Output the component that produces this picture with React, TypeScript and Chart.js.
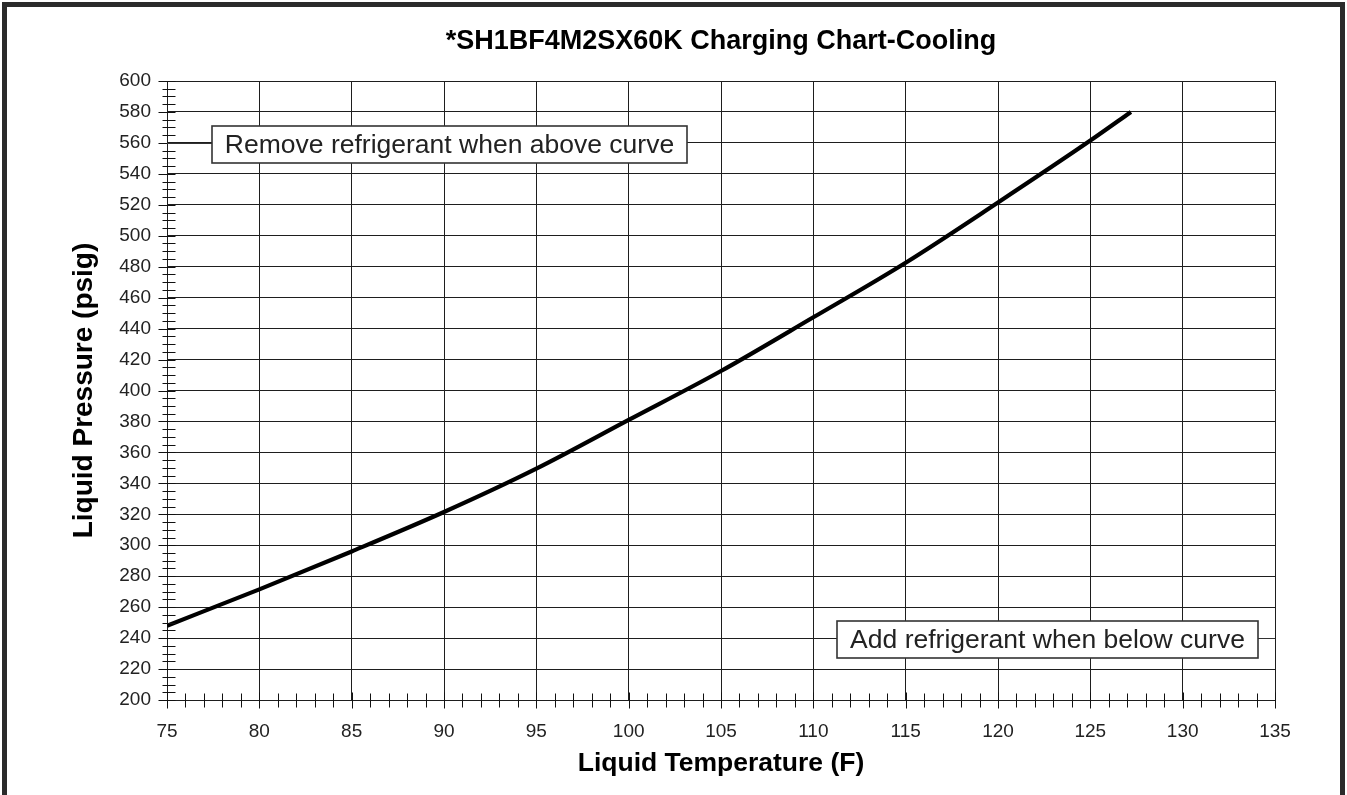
import React, { useEffect, useRef } from "react";
import { Chart, registerables } from "chart.js";

Chart.register(...registerables);

// ---- Data ----
const TITLE = "*SH1BF4M2SX60K Charging Chart-Cooling";
const X_TITLE = "Liquid Temperature (F)";
const Y_TITLE = "Liquid Pressure (psig)";

const TEMPS = [75, 80, 85, 90, 95, 100, 105, 110, 115, 120, 125, 127.2];
const PRESSURES = [248, 271.5, 296, 321.5, 349.5, 381, 412.6, 447.3, 482.6, 521.5, 561.5, 580];

const X_MIN = 75;
const X_MAX = 135;
const X_MAJOR_STEP = 5;
const X_MINOR_STEP = 1;
const Y_MIN = 200;
const Y_MAX = 600;
const Y_MAJOR_STEP = 20;
const Y_MINOR_STEP = 5;

const NOTE_TEXTS = ["Remove refrigerant when above curve", "Add refrigerant when below curve"];
const NOTE_ANCHOR_X = [77.44, 134.08];
const NOTE_ANCHOR_Y = [560, 240];
const NOTE_SIDE = ["left", "right"];

const FONT = "'Liberation Sans', Arial, Helvetica, sans-serif";

const minorTicksPlugin = {
  id: "minorTicks",
  afterDatasetsDraw(chart: any) {
    const { ctx, chartArea, scales } = chart;
    const x = scales.x;
    const y = scales.y;
    ctx.save();
    ctx.strokeStyle = "#111";
    ctx.lineWidth = 1;
    ctx.beginPath();
    const ax = Math.round(chartArea.left) + 0.5;
    for (let v = Y_MIN; v <= Y_MAX + 1e-9; v += Y_MINOR_STEP) {
      const py = Math.round(y.getPixelForValue(v)) + 0.5;
      const major = Math.abs(v % Y_MAJOR_STEP) < 1e-9;
      ctx.moveTo(ax - (major ? 9 : 5), py);
      ctx.lineTo(ax + 8, py);
    }
    const ay = Math.round(chartArea.bottom) + 0.5;
    for (let v = X_MIN; v <= X_MAX + 1e-9; v += X_MINOR_STEP) {
      const px = Math.round(x.getPixelForValue(v)) + 0.5;
      const major = Math.abs(v % X_MAJOR_STEP) < 1e-9;
      ctx.moveTo(px, ay - (major ? 8 : 7));
      ctx.lineTo(px, ay + (major ? 8 : 7));
    }
    ctx.stroke();
    ctx.restore();
  },
};

const notesPlugin = {
  id: "notes",
  afterDraw(chart: any) {
    const { ctx, chartArea, scales } = chart;
    const x = scales.x;
    const y = scales.y;
    ctx.save();
    ctx.font = `26.5px ${FONT}`;
    NOTE_TEXTS.forEach((t, i) => {
      const pad = 13;
      const w = Math.round(ctx.measureText(t).width + 2 * pad);
      const h = 37;
      const cy = Math.round(y.getPixelForValue(NOTE_ANCHOR_Y[i])) + 0.5;
      const anchor = Math.round(x.getPixelForValue(NOTE_ANCHOR_X[i]));
      const left = NOTE_SIDE[i] === "left" ? anchor : anchor - w;
      const top = Math.round(cy - h / 2 + 1);
      ctx.strokeStyle = "#333";
      ctx.lineWidth = 1;
      ctx.beginPath();
      if (NOTE_SIDE[i] === "left") {
        ctx.moveTo(chartArea.left, cy);
        ctx.lineTo(left, cy);
      } else {
        ctx.moveTo(left + w, cy);
        ctx.lineTo(chartArea.right, cy);
      }
      ctx.stroke();
      ctx.fillStyle = "#fff";
      ctx.fillRect(left, top, w, h);
      ctx.lineWidth = 1.6;
      ctx.strokeStyle = "#333";
      ctx.strokeRect(left, top, w, h);
      ctx.fillStyle = "#222";
      ctx.textAlign = "center";
      ctx.textBaseline = "middle";
      ctx.fillText(t, left + w / 2, top + h / 2 + 1);
    });
    ctx.restore();
  },
};

export default function App() {
  const ref = useRef<HTMLCanvasElement | null>(null);

  useEffect(() => {
    const canvas = ref.current;
    if (!canvas) return;
    Chart.defaults.font.family = FONT;
    const chart = new Chart(canvas, {
      type: "line",
      data: {
        datasets: [
          {
            data: TEMPS.map((t, i) => ({ x: t, y: PRESSURES[i] })),
            borderColor: "#000",
            borderWidth: 4.2,
            pointRadius: 0,
            fill: false,
            cubicInterpolationMode: "monotone",
          },
        ],
      },
      options: {
        responsive: false,
        animation: false,
        events: [],
        layout: { padding: { left: 0, right: 72, top: 0, bottom: 0 } },
        plugins: {
          legend: { display: false },
          tooltip: { enabled: false },
          title: {
            display: true,
            text: TITLE,
            fullSize: false,
            color: "#000",
            font: { size: 27, weight: "bold", lineHeight: 1.2 },
            padding: { top: 25.1, bottom: 23.5 },
          },
        },
        scales: {
          x: {
            type: "linear",
            min: X_MIN,
            max: X_MAX,
            afterFit(s: any) {
              s.height = 95;
              s.paddingLeft = 0;
              s.paddingRight = 0;
            },
            ticks: {
              stepSize: X_MAJOR_STEP,
              color: "#222",
              font: { size: 19, lineHeight: 1.2 },
              padding: 20.3,
              maxRotation: 0,
              autoSkip: false,
            },
            grid: { color: "#1e1e1e", lineWidth: 1, drawTicks: false },
            border: { color: "#1e1e1e", width: 1 },
            title: {
              display: true,
              text: X_TITLE,
              color: "#000",
              font: { size: 26.5, weight: "bold", lineHeight: 1.2 },
              padding: { top: 0, bottom: 15 },
            },
          },
          y: {
            type: "linear",
            min: Y_MIN,
            max: Y_MAX,
            afterFit(s: any) {
              s.width = 167;
              s.paddingTop = 0;
              s.paddingBottom = 0;
            },
            ticks: {
              stepSize: Y_MAJOR_STEP,
              color: "#222",
              font: { size: 19, lineHeight: 1.2 },
              padding: 16,
              autoSkip: false,
            },
            grid: { color: "#1e1e1e", lineWidth: 1, drawTicks: false },
            border: { color: "#1e1e1e", width: 1 },
            title: {
              display: true,
              text: Y_TITLE,
              color: "#000",
              font: { size: 28, weight: "bold", lineHeight: 1.2 },
              padding: { top: 67.4, bottom: 0 },
            },
          },
        },
      },
      plugins: [minorTicksPlugin, notesPlugin],
    } as any);
    return () => chart.destroy();
  }, []);

  return (
    <div
      style={{
        position: "fixed",
        left: 0,
        top: 0,
        width: 1347,
        height: 795,
        overflow: "hidden",
        background: "#fff",
      }}
    >
      <canvas
        ref={ref}
        width={1347}
        height={795}
        style={{ position: "absolute", left: 0, top: 0, width: 1347, height: 795 }}
      />
      <div
        style={{
          position: "absolute",
          left: 2,
          top: 2,
          width: 1343,
          height: 1000,
          boxSizing: "border-box",
          border: "5px solid #2b2b2b",
          pointerEvents: "none",
        }}
      />
    </div>
  );
}
